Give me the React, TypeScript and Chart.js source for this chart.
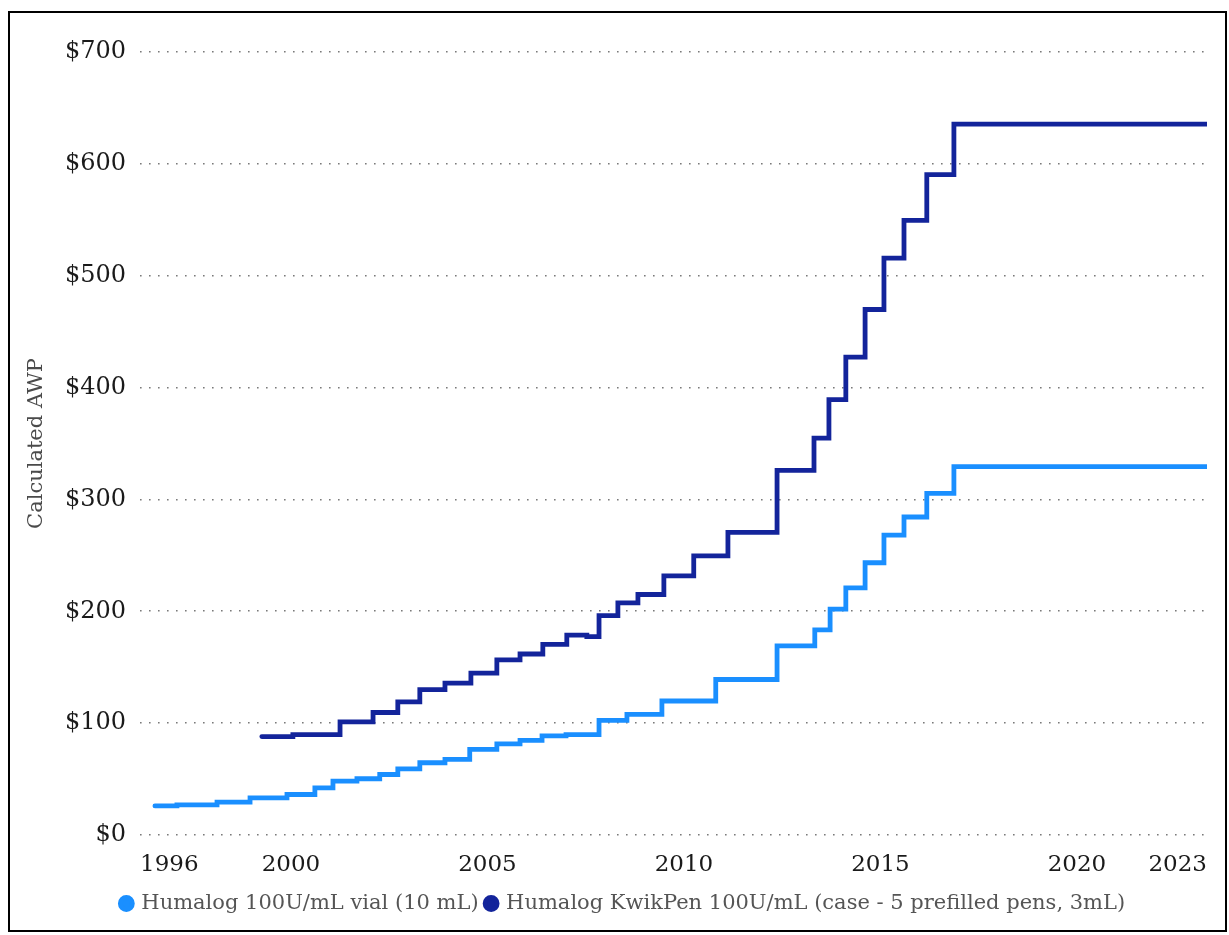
import React, { useEffect, useRef } from "react";
import { Chart, registerables } from "chart.js";

Chart.register(...registerables);

// Humalog 100U/mL vial (10 mL): price change dates (decimal years) and new calculated AWP
const vialDates = [1996.54, 1997.1, 1998.12, 1998.96, 1999.9, 2000.61, 2001.07, 2001.68, 2002.26, 2002.72, 2003.28, 2003.92, 2004.55, 2005.24, 2005.83, 2006.39, 2007.0, 2007.84, 2008.55, 2009.44, 2010.81, 2012.37, 2013.33, 2013.72, 2014.12, 2014.61, 2015.09, 2015.6, 2016.18, 2016.87, 2023.31];
const vialPrices = [26, 27, 29.4, 33.2, 36.2, 42.2, 48.2, 50.3, 54.1, 59.2, 64.6, 67.6, 76.6, 81.5, 84.6, 88.6, 89.8, 102.5, 107.8, 119.8, 139, 169, 183.3, 202, 221, 243.4, 268, 284.3, 305.4, 329.4, 329.4];

// Humalog KwikPen 100U/mL (case - 5 prefilled pens, 3mL)
const penDates = [1999.26, 2000.05, 2001.25, 2002.09, 2002.72, 2003.28, 2003.92, 2004.58, 2005.24, 2005.83, 2006.41, 2007.02, 2007.53, 2007.84, 2008.32, 2008.83, 2009.49, 2010.25, 2011.12, 2012.37, 2013.31, 2013.69, 2014.12, 2014.61, 2015.09, 2015.6, 2016.18, 2016.87, 2023.31];
const penPrices = [88, 89.7, 101.2, 109.5, 119, 129.9, 135.8, 144.8, 156.6, 161.8, 170.4, 178.6, 177.3, 196.1, 207.5, 215, 231.6, 249.6, 270.5, 326, 354.8, 389.2, 427.3, 469.8, 515.8, 549.4, 590.4, 635.5, 635.5];

const seriesNames = [
  "Humalog 100U/mL vial (10 mL)",
  "Humalog KwikPen 100U/mL (case - 5 prefilled pens, 3mL)",
];

const xMin = 1996.16;
const xMax = 2023.31;
const xTickYears = [2000, 2005, 2010, 2015, 2020];
const xTickLabels = ["1996", "2000", "2005", "2010", "2015", "2020", "2023"];
const yTicks = [0, 100, 200, 300, 400, 500, 600, 700];

const FONT = "'DejaVu Serif', Georgia, serif";

export default function App() {
  const canvasRef = useRef<HTMLCanvasElement | null>(null);

  useEffect(() => {
    if (!canvasRef.current) return;
    const toPoints = (xs: number[], ys: number[]) => xs.map((x, i) => ({ x, y: ys[i] }));
    const chart = new Chart(canvasRef.current, {
      type: "line",
      data: {
        datasets: [
          {
            label: seriesNames[0],
            data: toPoints(vialDates, vialPrices),
            borderColor: "#1a8fff",
            backgroundColor: "#1a8fff",
            borderWidth: 4.8,
            stepped: true,
            pointRadius: 0,
            borderCapStyle: "round",
            fill: false,
          },
          {
            label: seriesNames[1],
            data: toPoints(penDates, penPrices),
            borderColor: "#13249b",
            backgroundColor: "#13249b",
            borderWidth: 4.8,
            stepped: true,
            pointRadius: 0,
            borderCapStyle: "round",
            fill: false,
          },
        ],
      },
      options: {
        animation: false,
        responsive: true,
        maintainAspectRatio: false,
        layout: { padding: { top: 39, right: 18, left: 30, bottom: 6 } },
        plugins: {
          tooltip: { enabled: false },
          legend: {
            position: "bottom",
            align: "center",
            labels: {
              usePointStyle: true,
              pointStyle: "circle",
              boxWidth: 9,
              boxHeight: 8.5,
              padding: 8,
              color: "#555",
              font: { family: FONT, size: 21 },
            },
          },
        },
        scales: {
          x: {
            type: "linear",
            min: xMin,
            max: xMax,
            grid: { display: false, drawTicks: false },
            border: { display: false },
            afterBuildTicks: (scale: any) => {
              scale.ticks = [xMin, ...xTickYears, xMax].map((value) => ({ value }));
            },
            afterFit: (scale: any) => {
              scale.height = 50;
            },
            ticks: {
              autoSkip: false,
              maxRotation: 0,
              align: "inner",
              padding: 16,
              color: "#1a1a1a",
              font: { family: FONT, size: 23 },
              callback: (_v: any, i: number) => xTickLabels[i],
            },
          },
          y: {
            min: 0,
            max: 700,
            afterBuildTicks: (scale: any) => {
              scale.ticks = yTicks.map((value) => ({ value }));
            },
            afterFit: (scale: any) => {
              scale.width = 100;
            },
            grid: {
              drawTicks: false,
              color: "#7a7a7a",
              lineWidth: 1.6,
            },
            border: { display: false, dash: [1.6, 7.4] },
            ticks: {
              padding: 14,
              color: "#1a1a1a",
              font: { family: FONT, size: 24 },
              callback: (v: any) => "$" + v,
            },
            title: {
              display: true,
              text: "Calculated AWP",
              color: "#4a4a4a",
              font: { family: FONT, size: 21 },
              padding: { top: -16, bottom: 0 },
            },
          },
        },
      },
    } as any);
    return () => chart.destroy();
  }, []);

  return (
    <div
      style={{
        position: "fixed",
        left: 8,
        top: 11,
        width: 1219,
        height: 921,
        boxSizing: "border-box",
        border: "2px solid #000",
        background: "#fff",
      }}
    >
      <div style={{ position: "relative", width: 1215, height: 917 }}>
        <canvas ref={canvasRef} />
      </div>
    </div>
  );
}
